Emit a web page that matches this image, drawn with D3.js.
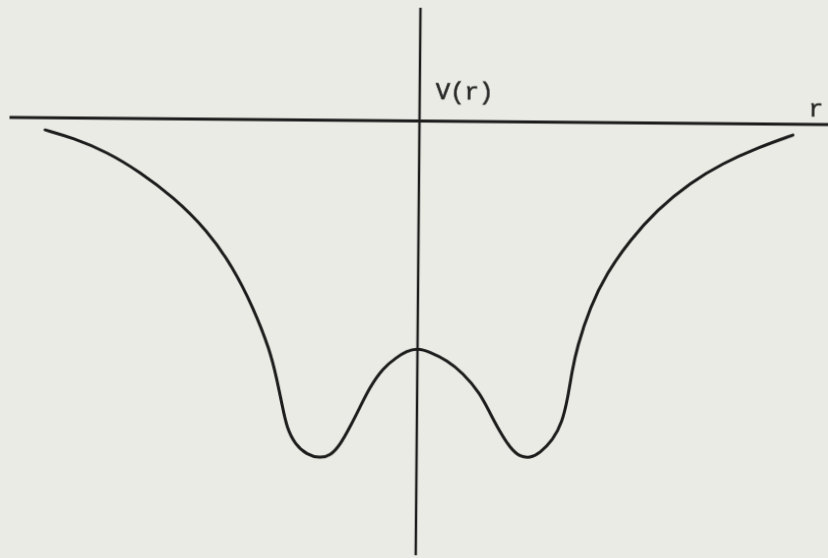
<!DOCTYPE html>
<html>
<head>
<meta charset="utf-8">
<script src="https://cdn.jsdelivr.net/npm/d3@7"></script>
<style>
  html, body { margin: 0; padding: 0; background: #e9ebe4; }
  svg { display: block; }
</style>
</head>
<body>
<script>
// Double-well potential V(r), sampled along the curve.
const rValues = [-9.13, -8.45, -7.61, -6.81, -5.99, -5.16, -4.52, -4.02, -3.60, -3.42,
                 -3.29, -3.17, -2.97, -2.67, -2.36, -2.11, -1.87, -1.63, -1.39, -1.15,
                 -0.84, -0.50, -0.26,  0.00,  0.30,  0.72,  1.11,  1.53,  1.78,  2.03,
                  2.28,  2.52,  2.77,  3.01,  3.32,  3.54,  3.68,  3.77,  3.89,  4.20,
                  4.60,  5.16,  5.81,  6.61,  7.41,  8.24,  9.11];
const vValues = [-0.36, -0.59, -1.00, -1.58, -2.31, -3.28, -4.37, -5.55, -6.81, -7.70,
                 -8.44, -9.12, -9.59, -9.91, -10.00, -9.93, -9.61, -9.07, -8.48, -7.88,
                 -7.32, -6.99, -6.81, -6.72, -6.83, -7.07, -7.44, -8.03, -8.62, -9.18,
                 -9.65, -9.91, -9.94, -9.79, -9.40, -8.90, -8.13, -7.39, -6.65, -5.46,
                 -4.45, -3.47, -2.57, -1.76, -1.17, -0.71, -0.32];

// Axis extents in data units
const rAxis = [-10, 10];
const vAxis = [3.35, -12.85];

// Axis titles
const vTitle = "V(r)";
const rTitle = "r";

const W = 828, H = 558;
const svg = d3.select("body").append("svg").attr("width", W).attr("height", H);

const defs = svg.append("defs");
defs.append("filter").attr("id", "soft")
  .append("feGaussianBlur").attr("stdDeviation", 0.45);

const x = d3.scaleLinear().domain([-10, 10]).range([-410, 410]);
const y = d3.scaleLinear().domain([0, -10]).range([0, 338]);

const ink = "#1c1c1c";
const g = svg.append("g")
  .attr("transform", "translate(419.5,121) rotate(0.5)")
  .attr("filter", "url(#soft)");

// r axis
g.append("line")
  .attr("x1", x(rAxis[0])).attr("x2", x(rAxis[1]))
  .attr("y1", y(0)).attr("y2", y(0))
  .attr("stroke", ink).attr("stroke-width", 2.8);

// V axis
g.append("line")
  .attr("x1", x(0)).attr("x2", x(0))
  .attr("y1", y(vAxis[0])).attr("y2", y(vAxis[1]))
  .attr("stroke", ink).attr("stroke-width", 2.4);

// Potential curve (smoothed through the samples)
const pts = rValues.map((r, i) => [r, vValues[i]]);
const line = d3.line().x(d => x(d[0])).y(d => y(d[1])).curve(d3.curveBasis);
g.append("path")
  .attr("d", line(pts))
  .attr("fill", "none")
  .attr("stroke", ink)
  .attr("stroke-width", 3)
  .attr("stroke-linecap", "round")
  .attr("stroke-linejoin", "round");

// Labels
const labelFont = "'Liberation Mono', 'DejaVu Sans Mono', monospace";
g.append("text")
  .attr("x", x(0) + 16).attr("y", y(0) - 22)
  .attr("font-family", labelFont)
  .attr("font-size", 24)
  .attr("fill", "#262626")
  .attr("stroke", "#262626").attr("stroke-width", 0.6)
  .text(vTitle);

g.append("text")
  .attr("x", x(0) + 389).attr("y", y(0) - 8)
  .attr("font-family", labelFont)
  .attr("font-size", 24)
  .attr("fill", "#262626")
  .attr("stroke", "#262626").attr("stroke-width", 0.6)
  .text(rTitle);
</script>
</body>
</html>
